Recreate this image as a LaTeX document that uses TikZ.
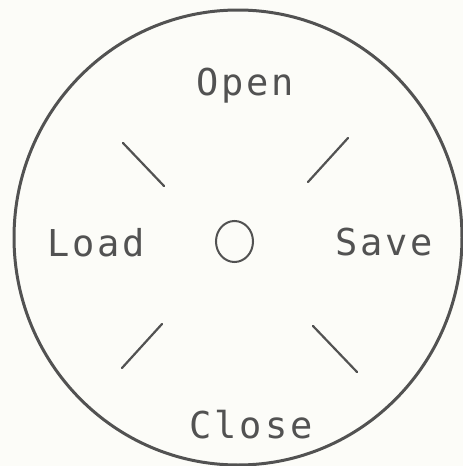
\documentclass[tikz,border=0pt]{standalone}
\usepackage{fontspec}
\usetikzlibrary{shapes.geometric}
\newfontfamily\menufont[LetterSpace=8]{DejaVu Sans Mono}
\definecolor{ink}{HTML}{525252}
\definecolor{paper}{HTML}{FCFCF8}

\begin{document}
\begin{tikzpicture}[
  x=1pt, y=-1pt,
  item/.style={anchor=base, inner sep=0pt, text=ink,
               font=\menufont\fontsize{37}{40}\selectfont},
  tick/.style={draw=ink, line width=2.2pt, line cap=round}
]
% Frame
\fill[paper] (0,0) rectangle (463,466);
\useasboundingbox (0,0) rectangle (463,466);

% Outer dial and centre mark
\draw[ink, line width=3pt] (238,237.5) ellipse [x radius=224, y radius=227.5];
\node[draw=ink, line width=2pt, ellipse, minimum width=37pt, minimum height=41pt,
      inner sep=0pt] (hub) at (234.5,241.5) {};

% Menu items
\node[item] (open)  at (245,95)  {Open};
\node[item] (load)  at (96,256)  {Load};
\node[item] (save)  at (384,255) {Save};
\node[item] (close) at (251,438) {Close};

% Diagonal ticks
\draw[tick] (123,143) -- (164,186);
\draw[tick] (308,182) -- (348,138);
\draw[tick] (122,368) -- (162,324);
\draw[tick] (313,326) -- (357,372);
\end{tikzpicture}
\end{document}
